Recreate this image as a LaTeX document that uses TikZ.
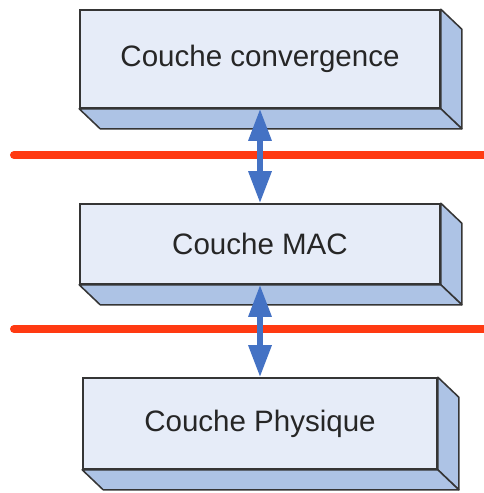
\documentclass[tikz,border=0pt]{standalone}
\usepackage{fontspec}
\setmainfont{Liberation Sans}
\usetikzlibrary{arrows.meta,calc}
\definecolor{facefront}{HTML}{E6ECF8}
\definecolor{faceside}{HTML}{ADC3E5}
\definecolor{edgegray}{HTML}{353535}
\definecolor{arrowblue}{HTML}{4472C4}
\definecolor{sepred}{HTML}{FF3A12}
\begin{document}
\begin{tikzpicture}[x=0.025cm,y=-0.025cm,
  layer/.style={draw=edgegray,line width=1.1pt,fill=facefront,text=black!85,
    font=\fontsize{21}{25}\selectfont,minimum width=9cm,inner sep=0pt},
  side/.style={draw=edgegray,line width=1.1pt,fill=faceside,line join=round},
  link/.style={draw=arrowblue,line width=4.3pt,
    {Triangle[width=0.55cm,length=0.8cm]}-{Triangle[width=0.55cm,length=0.8cm]}},
  sep/.style={draw=sepred,line width=0.2cm,line cap=round}]
\useasboundingbox (0,0) rectangle (484,493);

\node[layer,minimum height=2.45cm] (conv) at (260,59) {Couche convergence};
\node[layer,minimum height=2cm] (mac) at (260,244) {Couche MAC};
\node[layer,minimum height=2.275cm,minimum width=8.85cm] (phy) at (260,423.5) {Couche Physique};

% depth of the blocks
\foreach \b in {conv,mac,phy} {
  \path[side] (\b.north east) -- ++(21,20) -- ($(\b.south east)+(21,20)$) -- (\b.south east) -- cycle;
  \path[side] (\b.south west) -- (\b.south east) -- ++(21,20) -- ($(\b.south west)+(21,20)$) -- cycle;
}

% separators
\coordinate (s1a) at (14,155);
\coordinate (s1b) at (488,155);
\coordinate (s2a) at (14,329);
\coordinate (s2b) at (488,329);
\path[sep] (s1a) -- (s1b);
\path[sep] (s2a) -- (s2b);

\path[link] (conv.south) -- (mac.north);
\path[link] (mac.south) -- (phy.north);
\end{tikzpicture}
\end{document}
